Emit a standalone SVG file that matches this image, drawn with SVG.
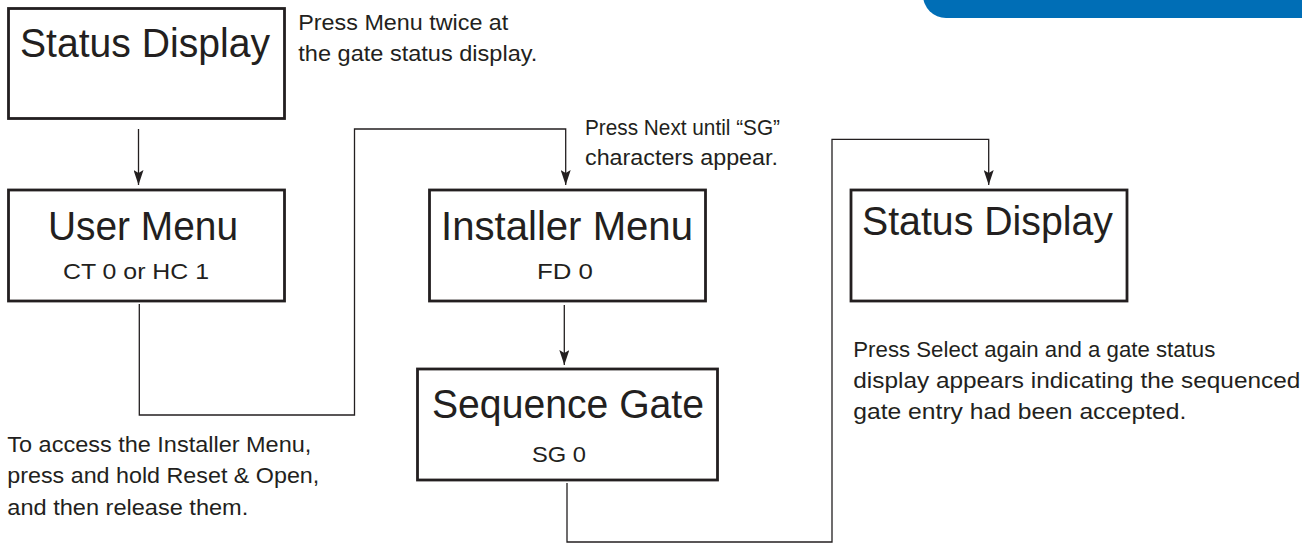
<svg xmlns="http://www.w3.org/2000/svg" width="1302" height="544" viewBox="0 0 1302 544">
<style>
.box{fill:#fff;stroke:#231f20;stroke-width:2.8}
.head{font-family:"Liberation Sans",Arial,sans-serif;font-size:40px;fill:#231f20;text-anchor:middle}
.sub{font-family:"Liberation Sans",Arial,sans-serif;font-size:22px;fill:#231f20;text-anchor:middle}
.note{font-family:"Liberation Sans",Arial,sans-serif;font-size:22px;fill:#231f20}
.conn{fill:none;stroke:#231f20;stroke-width:1.3}
</style>
<defs>
<marker id="arr" viewBox="0 0 15 10" refX="15" refY="5" markerWidth="15" markerHeight="10" markerUnits="userSpaceOnUse" orient="auto">
<path d="M0,0 L15,5 L0,10 L3,5 Z" fill="#231f20"/>
</marker>
</defs>
<path d="M923,-10 L923,-5 A23,23 0 0 0 946,18 L1302,18 L1302,-10 Z" fill="#006eb6"/>
<g id="connectors">
<path class="conn" d="M138.5,129 L138.5,185" marker-end="url(#arr)"/>
<path class="conn" d="M139.3,304 L139.3,415 L354.5,415 L354.5,129 L565.7,129 L565.7,185" marker-end="url(#arr)"/>
<path class="conn" d="M564.3,305 L564.3,365" marker-end="url(#arr)"/>
<path class="conn" d="M567,483 L567,542 L832,542 L832,139.3 L988.7,139.3 L988.7,185" marker-end="url(#arr)"/>
</g>
<g id="status-display-1">
<rect class="box" x="8.5" y="8.5" width="276" height="110"/>
<text class="head" x="145" y="56.5" textLength="250" lengthAdjust="spacingAndGlyphs">Status Display</text>
</g>
<g id="user-menu">
<rect class="box" x="8.5" y="190" width="276" height="111"/>
<text class="head" x="143" y="240" textLength="190" lengthAdjust="spacingAndGlyphs">User Menu</text>
<text class="sub" x="136" y="278.5" textLength="146" lengthAdjust="spacingAndGlyphs">CT 0 or HC 1</text>
</g>
<g id="installer-menu">
<rect class="box" x="429.5" y="190" width="276" height="111"/>
<text class="head" x="567" y="240" textLength="252" lengthAdjust="spacingAndGlyphs">Installer Menu</text>
<text class="sub" x="565" y="278.5" textLength="56" lengthAdjust="spacingAndGlyphs">FD 0</text>
</g>
<g id="sequence-gate">
<rect class="box" x="417.5" y="369" width="300" height="111"/>
<text class="head" x="568" y="418" textLength="272" lengthAdjust="spacingAndGlyphs">Sequence Gate</text>
<text class="sub" x="559" y="461.7" textLength="54" lengthAdjust="spacingAndGlyphs">SG 0</text>
</g>
<g id="status-display-2">
<rect class="box" x="851" y="190" width="276" height="111"/>
<text class="head" x="987.5" y="235" textLength="251" lengthAdjust="spacingAndGlyphs">Status Display</text>
</g>
<g id="notes">
<text class="note" x="298.3" y="30" textLength="210" lengthAdjust="spacingAndGlyphs">Press Menu twice at</text>
<text class="note" x="298.3" y="60.5" textLength="239" lengthAdjust="spacingAndGlyphs">the gate status display.</text>
<text class="note" x="585" y="135" textLength="195" lengthAdjust="spacingAndGlyphs">Press Next until “SG”</text>
<text class="note" x="585" y="165" textLength="193" lengthAdjust="spacingAndGlyphs">characters appear.</text>
<text class="note" x="7.3" y="451.7" textLength="304" lengthAdjust="spacingAndGlyphs">To access the Installer Menu,</text>
<text class="note" x="7.3" y="483.3" textLength="312" lengthAdjust="spacingAndGlyphs">press and hold Reset &amp; Open,</text>
<text class="note" x="7.3" y="515" textLength="241" lengthAdjust="spacingAndGlyphs">and then release them.</text>
<text class="note" x="853.3" y="356.7" textLength="362" lengthAdjust="spacingAndGlyphs">Press Select again and a gate status</text>
<text class="note" x="853.3" y="388.3" textLength="447" lengthAdjust="spacingAndGlyphs">display appears indicating the sequenced</text>
<text class="note" x="853.3" y="419.3" textLength="333" lengthAdjust="spacingAndGlyphs">gate entry had been accepted.</text>
</g>
</svg>
